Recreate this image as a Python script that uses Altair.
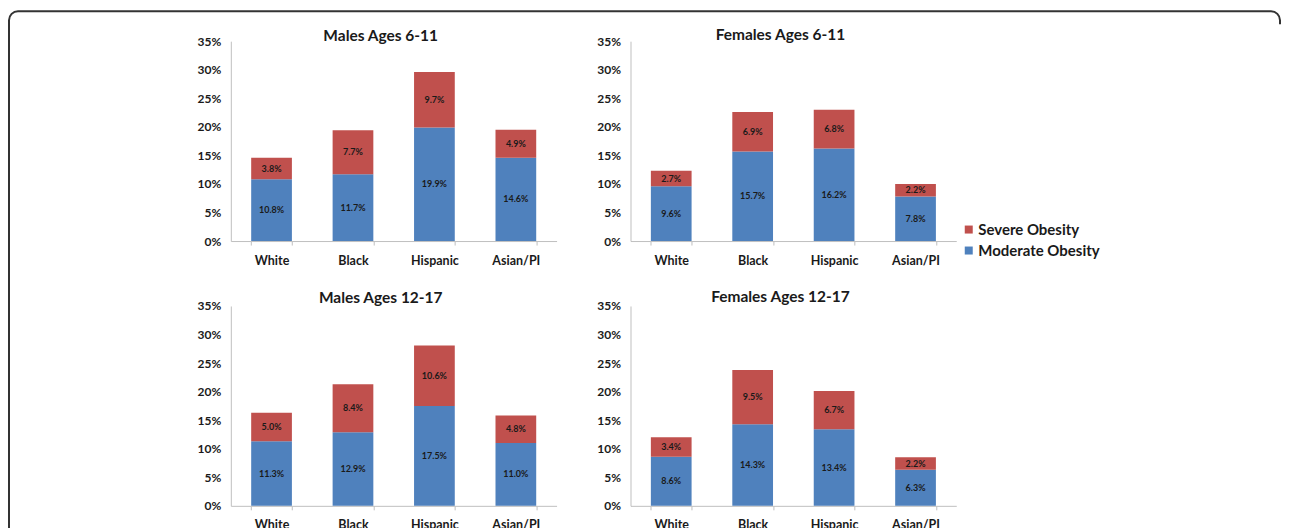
import altair as alt
import pandas as pd

races = ["White", "Black", "Hispanic", "Asian/PI"]
panel_titles = ["Males Ages 6-11", "Females Ages 6-11", "Males Ages 12-17", "Females Ages 12-17"]
series_names = ["Severe Obesity", "Moderate Obesity"]

moderate_m_6_11 = [10.8, 11.7, 19.9, 14.6]
severe_m_6_11 = [3.8, 7.7, 9.7, 4.9]
moderate_f_6_11 = [9.6, 15.7, 16.2, 7.8]
severe_f_6_11 = [2.7, 6.9, 6.8, 2.2]
moderate_m_12_17 = [11.3, 12.9, 17.5, 11.0]
severe_m_12_17 = [5.0, 8.4, 10.6, 4.8]
moderate_f_12_17 = [8.6, 14.3, 13.4, 6.3]
severe_f_12_17 = [3.4, 9.5, 6.7, 2.2]
y_ticks = [0, 0.05, 0.10, 0.15, 0.20, 0.25, 0.30, 0.35]

moderate_all = [moderate_m_6_11, moderate_f_6_11, moderate_m_12_17, moderate_f_12_17]
severe_all = [severe_m_6_11, severe_f_6_11, severe_m_12_17, severe_f_12_17]

rows = []
for title, mod, sev in zip(panel_titles, moderate_all, severe_all):
    for r, m, s in zip(races, mod, sev):
        rows.append(dict(panel=title, race=r, type="Moderate Obesity", pct=m, ord=0))
        rows.append(dict(panel=title, race=r, type="Severe Obesity", pct=s, ord=1))
df = pd.DataFrame(rows)
df["value"] = df["pct"] / 100.0
df["label"] = df["pct"].map(lambda v: f"{v:.1f}%")

FONT = "Lato"
RED = "#C0504D"
BLUE = "#4F81BD"
TXT = "#1a1a1a"
W, H = 326, 200
ROW_SP, COL_SP = 65, 74

xscale = alt.Scale(paddingInner=0.5, paddingOuter=0.25)
xaxis = alt.Axis(
    labelAngle=0,
    labelFont=FONT,
    labelFontSize=12.5,
    labelFontWeight="bold",
    labelColor=TXT,
    labelPadding=9,
    tickBand="extent",
    tickSize=4,
    tickColor="#bfbfbf",
    domainColor="#bfbfbf",
    grid=False,
)
yscale = alt.Scale(domain=[0, 0.35], nice=False)
yaxis = alt.Axis(
    values=y_ticks,
    format=".0%",
    labelFont=FONT,
    labelFontSize=12,
    labelFontWeight="bold",
    labelColor=TXT,
    labelPadding=10,
    labelOverlap=False,
    ticks=False,
    domainColor="#bfbfbf",
    grid=False,
)


def panel(title, legend=None, title_dy=0):
    base = (
        alt.Chart(df)
        .transform_filter(alt.datum.panel == title)
        .transform_stack(
            stack="value",
            groupby=["race"],
            sort=[alt.SortField("ord", order="ascending")],
            as_=["v0", "v1"],
        )
        .transform_calculate(mid="(datum.v0 + datum.v1) / 2")
    )
    color_kwargs = dict(
        scale=alt.Scale(domain=series_names, range=[RED, BLUE]),
        title=None,
    )
    if legend is None:
        color_kwargs["legend"] = None
    else:
        color_kwargs["legend"] = legend
    bars = base.mark_bar().encode(
        x=alt.X("race:N", sort=races, title=None, scale=xscale, axis=xaxis),
        y=alt.Y("v0:Q", scale=yscale, axis=yaxis, title=None),
        y2="v1:Q",
        color=alt.Color("type:N", **color_kwargs),
    )
    text = base.mark_text(
        font=FONT, fontSize=9, fontWeight="bold", color=TXT
    ).encode(
        x=alt.X("race:N", sort=races, title=None, scale=xscale, axis=xaxis),
        y=alt.Y("mid:Q", scale=yscale, axis=yaxis, title=None),
        text="label:N",
    )
    return alt.layer(bars, text).properties(
        width=W,
        height=H,
        title=alt.Title(
            title,
            font=FONT,
            fontSize=15.5,
            fontWeight="bold",
            color=TXT,
            offset=0,
            dy=title_dy,
            dx=-13,
            anchor="middle",
        ),
    )


legend = alt.Legend(
    orient="none",
    legendX=331,
    legendY=181,
    labelFont=FONT,
    labelFontSize=15,
    labelFontWeight="bold",
    labelColor=TXT,
    symbolType="square",
    symbolSize=64,
    symbolStrokeWidth=0,
    labelOffset=2,
    rowPadding=5,
)

tl = panel(panel_titles[0], title_dy=9.5)
tr = panel(panel_titles[1], legend=legend, title_dy=8.5)
bl = panel(panel_titles[2], title_dy=7)
br = panel(panel_titles[3], title_dy=6)

# decorative rounded frame around the figure, placed in a tiny 5th cell below the grid
RIGHT = 1281
cell5_top = 41 + H + ROW_SP + H + ROW_SP  # page y of 5th cell origin
frame_src = pd.DataFrame({"f": [0]})
frame = alt.Chart(frame_src).mark_rect(
    fillOpacity=0, stroke="#333333", strokeWidth=2, cornerRadius=9
).encode(
    x=alt.value(9 - 231),
    x2=alt.value(RIGHT - 231),
    y=alt.value(11 - cell5_top),
    y2=alt.value(560 - cell5_top),
)
cover = alt.Chart(frame_src).mark_rule(color="white", strokeWidth=4).encode(
    x=alt.value(RIGHT - 231),
    y=alt.value(24 - cell5_top),
    y2=alt.value(560 - cell5_top),
)
frame_cell = alt.layer(frame, cover).properties(width=1, height=1)

chart = (
    alt.concat(tl, tr, bl, br, frame_cell, columns=2,
               spacing={"row": ROW_SP, "column": COL_SP}, bounds="flush")
    .resolve_legend(color="independent")
    .properties(padding={"left": 0, "top": 2, "right": 0, "bottom": 0}, background="white")
    .configure_view(stroke="transparent", strokeWidth=0)
)

chart.save("out.html", embed_options={"renderer": "svg", "actions": False})
